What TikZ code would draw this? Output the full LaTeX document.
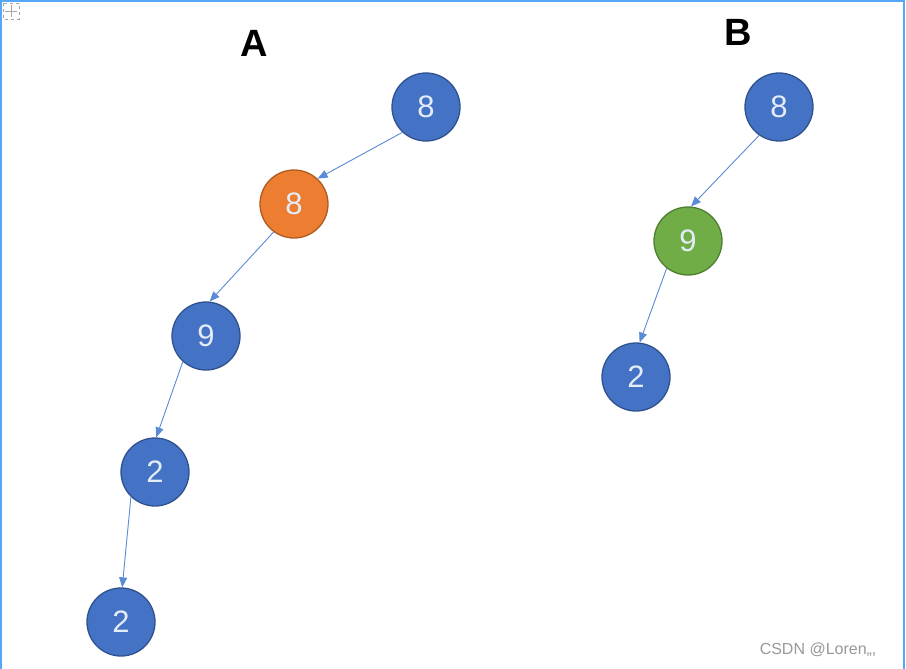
\documentclass[tikz,border=0pt]{standalone}
\usepackage{fontspec}
\setmainfont{Liberation Sans}
\usetikzlibrary{arrows.meta}
\definecolor{nblue}{HTML}{4472C4}
\definecolor{nbluedk}{HTML}{2F528F}
\definecolor{norange}{HTML}{ED7D31}
\definecolor{norangedk}{HTML}{AE5A21}
\definecolor{ngreen}{HTML}{70AD47}
\definecolor{ngreendk}{HTML}{507E32}
\definecolor{frame}{HTML}{55A8F5}
\definecolor{numtxt}{HTML}{E4ECF8}
\definecolor{edgec}{HTML}{5B8AD6}
\tikzset{
  tnode/.style={circle, minimum size=68pt, inner sep=0pt, line width=1.3pt,
    font=\fontsize{31}{31}\selectfont, text=numtxt},
  bluenode/.style={tnode, fill=nblue, draw=nbluedk},
  orangenode/.style={tnode, fill=norange, draw=norangedk},
  greennode/.style={tnode, fill=ngreen, draw=ngreendk},
  edge/.style={draw=edgec, line width=0.9pt, -{Triangle[length=10pt,width=8pt]}},
  title/.style={font=\bfseries\fontsize{38}{38}\selectfont}
}
\begin{document}
\begin{tikzpicture}[x=1pt,y=-1pt]
\useasboundingbox (0,0) rectangle (906,669);
\fill[white] (0,0) rectangle (906,669);
% frame
\draw[frame, line width=2pt] (1,672) -- (1,1) -- (904,1) -- (904,672);
% move icon
\draw[gray!70, dashed, line width=0.8pt] (3,3) rectangle (19,19);
\draw[gray!70, line width=0.8pt] (5,11) -- (17,11) (11,5) -- (11,17);
% titles
\node[title] (tA) at (254,43) {A};
\node[title] (tB) at (738,32) {B};
% tree A
\node[bluenode] (a1) at (426,107) {8};
\node[orangenode] (a2) at (294,204) {8};
\node[bluenode] (a3) at (206,336) {9};
\node[bluenode] (a4) at (155,472) {2};
\node[bluenode] (a5) at (121,622) {2};
% tree B
\node[bluenode] (b1) at (779,107) {8};
\node[greennode] (b2) at (688,241) {9};
\node[bluenode] (b3) at (636,377) {2};
% edges
\draw[edge] (a1.227) -- (a2.47);
\draw[edge] (a2.234) -- (a3.84);
\draw[edge] (a3.228) -- (a4.88);
\draw[edge] (a4.226) -- (a5.88);
\draw[edge] (b1.235) -- (b2.85);
\draw[edge] (b2.232) -- (b3.84);
% watermark
\node[text=gray!80, font=\fontsize{16}{16}\selectfont, anchor=east] (wm) at (880,650) {CSDN @Loren,,,};
\end{tikzpicture}
\end{document}
